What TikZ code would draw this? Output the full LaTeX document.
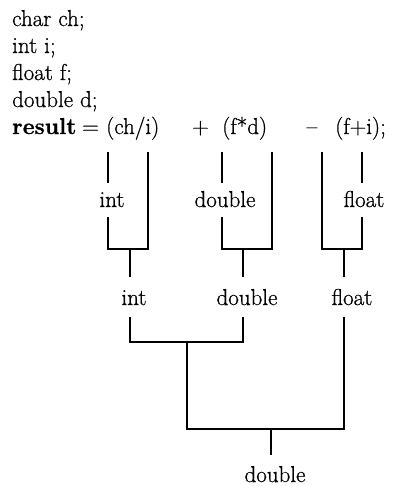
\documentclass[tikz,border=0pt]{standalone}
\usepackage{fontspec}
\setmainfont{Latin Modern Roman}[FakeBold=0.8]
\begin{document}
\begin{tikzpicture}[x=1pt,y=-1pt,
  every node/.style={inner sep=0pt, font=\fontsize{23}{27}\selectfont},
  wire/.style={line width=2pt, line cap=butt, line join=miter},
  lab/.style={anchor=base},
  code/.style={anchor=base west}]
\useasboundingbox (0,0) rectangle (395,486);
% declarations
\node[code] (d1) at (12,26) {char ch;};
\node[code] (d2) at (12,53) {int i;};
\node[code] (d3) at (12,80) {float f;};
\node[code] (d4) at (12,107) {double d;};
% expression
\node[code] (res) at (12,134) {\bfseries result};
\node[code] (eq) at (82,134) {=};
\node[code] (t1) at (106,134) {(ch/i)};
\node[lab] (plus) at (200.5,134) {+};
\node[code] (t2) at (222,134) {(f*d)};
\node[lab] (minus) at (312,134) {--};
\node[code] (t3) at (335,134) {(f+i);};
% first-level labels
\node[lab] (c1) at (112,207) {int};
\node[lab] (c2) at (225,207) {double};
\node[lab] (c3) at (364,207) {float};
% second-level labels
\node[lab] (r1) at (134,305) {int};
\node[lab] (r2) at (247,305) {double};
\node[lab] (r3) at (352,305) {float};
% final label
\node[lab] (fin) at (275,482) {double};
% coordinates
\coordinate (a1t) at (108,152); \coordinate (a1m) at (108,183);
\coordinate (a1n) at (108,217); \coordinate (a1b) at (108,249);
\coordinate (a2t) at (148,152); \coordinate (a2b) at (148,249);
\coordinate (b1t) at (222,152); \coordinate (b1m) at (222,183);
\coordinate (b1n) at (222,217); \coordinate (b1b) at (222,249);
\coordinate (b2t) at (272,152); \coordinate (b2b) at (272,249);
\coordinate (f1t) at (322,152); \coordinate (f1b) at (322,249);
\coordinate (f2t) at (362,152); \coordinate (f2m) at (362,183);
\coordinate (f2n) at (362,217); \coordinate (f2b) at (362,249);
\coordinate (s1a) at (130,249); \coordinate (s1b) at (130,277);
\coordinate (s2a) at (243,249); \coordinate (s2b) at (243,277);
\coordinate (s3a) at (344,249); \coordinate (s3b) at (344,277);
\coordinate (u1) at (130,317); \coordinate (u1b) at (130,342);
\coordinate (u2) at (243,317); \coordinate (u2b) at (243,342);
\coordinate (u3) at (344,317); \coordinate (u3b) at (344,429);
\coordinate (m1) at (187,342); \coordinate (m1b) at (187,429);
\coordinate (e1) at (271,429); \coordinate (e2) at (271,455);
% first-level brackets
\draw[wire] (a1t) -- (a1m);
\draw[wire] (a1n) -- (a1b) -- (a2b) -- (a2t);
\draw[wire] (b1t) -- (b1m);
\draw[wire] (b1n) -- (b1b) -- (b2b) -- (b2t);
\draw[wire] (f1t) -- (f1b) -- (f2b) -- (f2n);
\draw[wire] (f2t) -- (f2m);
\draw[wire] (s1a) -- (s1b);
\draw[wire] (s2a) -- (s2b);
\draw[wire] (s3a) -- (s3b);
% second-level brackets
\draw[wire] (u1) -- (u1b) -- (u2b) -- (u2);
\draw[wire] (m1) -- (m1b) -- (u3b) -- (u3);
\draw[wire] (e1) -- (e2);
\end{tikzpicture}
\end{document}
